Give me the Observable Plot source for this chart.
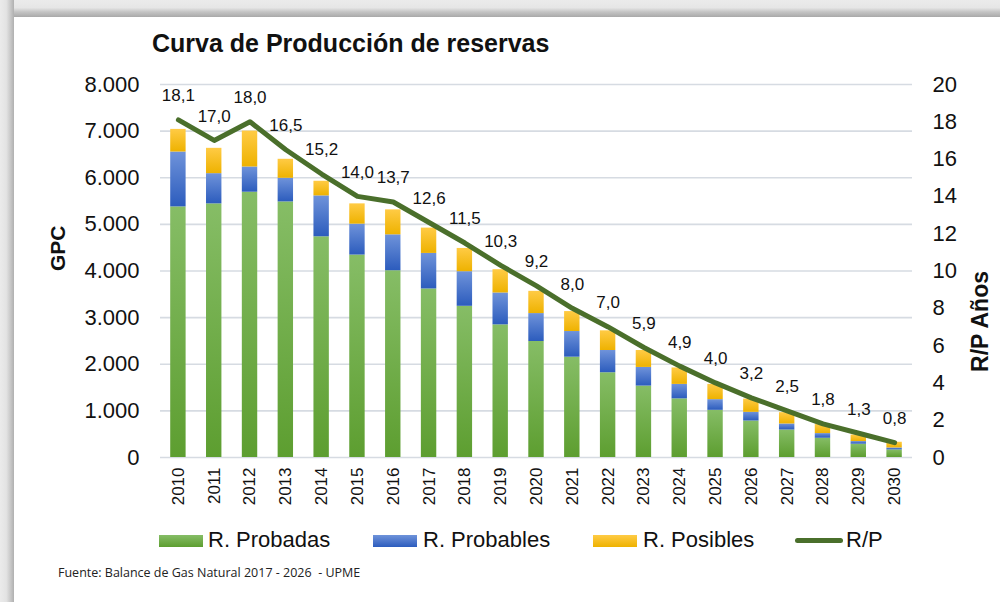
<!DOCTYPE html>
<html>
<head>
<meta charset="utf-8">
<script src="https://cdn.jsdelivr.net/npm/d3@7"></script>
<script src="https://cdn.jsdelivr.net/npm/@observablehq/plot@0.6"></script>
<style>
  html, body { margin: 0; padding: 0; }
  body { width: 1000px; height: 602px; position: relative; overflow: hidden; background: #fff;
         font-family: "Liberation Sans", Arial, sans-serif; color: #111; }
  .abs { position: absolute; white-space: pre; }
  #frameTop { left: 0; top: 0; width: 1000px; height: 17px;
    background: linear-gradient(#ebebeb 0%, #e6e6e6 45%, #c4c4c4 70%, #a9a9a9 100%); }
  #frameLeft { left: 0; top: 0; width: 14px; height: 602px;
    background: linear-gradient(to right, #ebebeb 0%, #e3e3e3 45%, #c8c8c8 75%, #b0b0b0 100%); }
  #title { left: 152px; top: 31px; font-size: 25px; line-height: 25px; font-weight: bold; color: #111; }
  #chart { left: 0; top: 60px; }
  .sw { position: absolute; width: 44px; height: 12px; }
  .lg { position: absolute; top: 529px; font-size: 22px; line-height: 22px; color: #111; }
  #caption { left: 58px; top: 567px; font-family: "Open Sans", sans-serif; font-size: 12.5px; line-height: 12.5px; color: #222; }
</style>
</head>
<body>
<div id="frameTop" class="abs"></div>
<div id="frameLeft" class="abs"></div>
<div id="title" class="abs">Curva de Producción de reservas</div>
<div id="chart" class="abs"></div>
<div id="legend"></div>
<div id="caption" class="abs">Fuente: Balance de Gas Natural 2017 - 2026  - UPME</div>
<script>
// ---- Data ----
const years = ["2010","2011","2012","2013","2014","2015","2016","2017","2018","2019","2020",
               "2021","2022","2023","2024","2025","2026","2027","2028","2029","2030"];
const probadas  = [5375,5440,5690,5482,4734,4342,4006,3615,3243,2845,2488,2152,1818,1532,1258,1012,783,590,413,285,163];
const probables = [1177, 648, 541, 507, 877, 663, 770, 762, 742, 684, 599, 550, 477, 400, 310, 229,186,129,100, 57, 42];
const posibles  = [ 485, 543, 770, 407, 314, 435, 535, 543, 499, 499, 477, 428, 422, 363, 353, 327,284,243,193,141,122];
const rp        = [18.1,17.0,18.0,16.5,15.2,14.0,13.7,12.6,11.5,10.3,9.2,8.0,7.0,5.9,4.9,4.0,3.2,2.5,1.8,1.3,0.8];
const seriesNames = ["R. Probadas","R. Probables","R. Posibles"];
const gpcTicks = [0,1000,2000,3000,4000,5000,6000,7000,8000];
const rpTicks  = [0,2,4,6,8,10,12,14,16,18,20];
const rpToGpc = 8000 / 20; // right axis 0–20 aligned with left axis 0–8000

// ---- Tables built from the arrays ----
const stackData = [];
years.forEach((y, i) => {
  stackData.push({year: y, serie: seriesNames[0], value: probadas[i]});
  stackData.push({year: y, serie: seriesNames[1], value: probables[i]});
  stackData.push({year: y, serie: seriesNames[2], value: posibles[i]});
});
const rpData = years.map((y, i) => ({year: y, rp: rp[i]}));

const gradients = [
  {id: "gGreen",  top: "#86bd66", bottom: "#5d9e30"},
  {id: "gBlue",   top: "#6f93da", bottom: "#2c5cbd"},
  {id: "gYellow", top: "#ffcb45", bottom: "#eeb200"}
];

const fmtThousands = d => d3.format(",")(d).replace(/,/g, ".");

const svg = Plot.plot({
  width: 1000,
  height: 460,
  marginTop: 24,
  marginBottom: 63,
  marginLeft: 160,
  marginRight: 88,
  style: {background: "transparent", fontFamily: "'Liberation Sans', Arial, sans-serif", color: "#111", overflow: "visible"},
  x: {type: "band", domain: years, paddingInner: 0.57, paddingOuter: 0.285, align: 0.5, round: false},
  y: {domain: [0, 8000]},
  color: {domain: seriesNames, range: gradients.map(g => `url(#${g.id})`)},
  marks: [
    Plot.gridY(gpcTicks, {stroke: "#d6dbe2", strokeOpacity: 1, strokeWidth: 1.6}),
    Plot.barY(stackData, {x: "year", y: "value", fill: "serie"}),
    Plot.line(rpData, {x: "year", y: d => d.rp * rpToGpc, stroke: "#4a6f2b", strokeWidth: 5,
                       strokeLinejoin: "round", strokeLinecap: "round"}),
    Plot.text(rpData, {x: "year", y: d => d.rp * rpToGpc, text: d => d.rp.toFixed(1).replace(".", ","),
                       dy: -24, fontSize: 17, fill: "#111"}),
    Plot.axisY(gpcTicks, {anchor: "left", tickSize: 0, tickPadding: 21, tickFormat: fmtThousands,
                          fontSize: 22, label: null}),
    Plot.axisY(rpTicks.map(v => v * rpToGpc), {anchor: "right", tickSize: 0, tickPadding: 20,
                          tickFormat: d => String(d / rpToGpc), fontSize: 22, label: null}),
    Plot.axisX({tickRotate: -90, tickSize: 0, tickPadding: 10, fontSize: 17, label: null}),
    Plot.text(["GPC"], {frameAnchor: "left", dx: -102, rotate: -90, fontSize: 21, fontWeight: "bold", fill: "#111"}),
    Plot.text(["R/P Años"], {frameAnchor: "right", dx: 68, rotate: -90, fontSize: 23, fontWeight: "bold", fill: "#111"})
  ]
});

// gradients for the bar segments
const defs = d3.select(svg).insert("defs", ":first-child");
gradients.forEach(g => {
  const lg = defs.append("linearGradient").attr("id", g.id)
    .attr("x1", 0).attr("y1", 0).attr("x2", 0).attr("y2", 1);
  lg.append("stop").attr("offset", 0).attr("stop-color", g.top);
  lg.append("stop").attr("offset", 1).attr("stop-color", g.bottom);
});
document.getElementById("chart").appendChild(svg);

// ---- Legend ----
const legend = document.getElementById("legend");
const legendItems = [
  {label: seriesNames[0], sw: 159, tx: 208, css: "linear-gradient(#86bd66,#5d9e30)"},
  {label: seriesNames[1], sw: 373, tx: 423, css: "linear-gradient(#6f93da,#2c5cbd)"},
  {label: seriesNames[2], sw: 593, tx: 643, css: "linear-gradient(#ffcb45,#eeb200)"}
];
legendItems.forEach(it => {
  const s = document.createElement("div");
  s.className = "sw"; s.style.left = it.sw + "px"; s.style.top = "535px"; s.style.background = it.css;
  legend.appendChild(s);
  const t = document.createElement("div");
  t.className = "lg"; t.style.left = it.tx + "px"; t.textContent = it.label;
  legend.appendChild(t);
});
const ln = document.createElement("div");
ln.style.cssText = "position:absolute;left:795px;top:538px;width:48px;height:5px;border-radius:3px;background:#4a6f2b;";
legend.appendChild(ln);
const lt = document.createElement("div");
lt.className = "lg"; lt.style.left = "846px"; lt.textContent = "R/P";
legend.appendChild(lt);
</script>
</body>
</html>
